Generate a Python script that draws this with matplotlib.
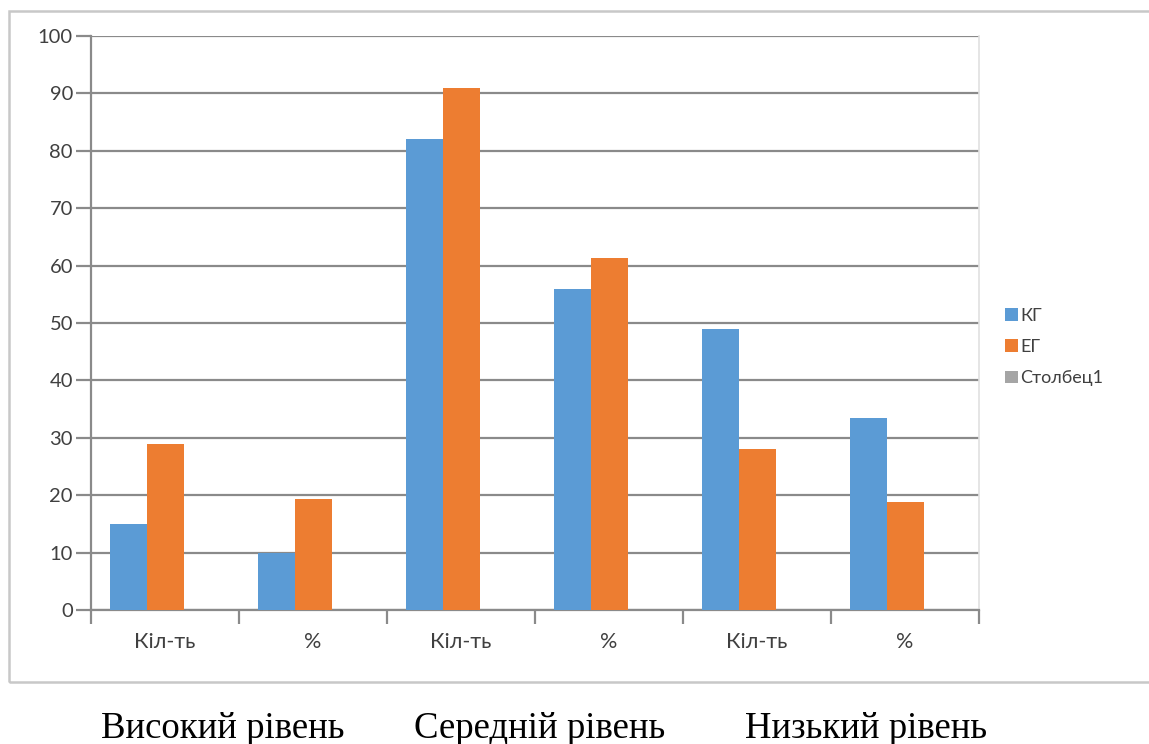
import numpy as np
import matplotlib.pyplot as plt
from matplotlib.patches import Rectangle

plt.rcParams['font.family'] = ['Lato', 'DejaVu Sans']

categories = ["Кіл-ть", "%", "Кіл-ть", "%", "Кіл-ть", "%"]
kg = [15, 10, 82, 56, 49, 33.5]
eg = [29, 19.4, 91, 61.3, 28, 18.9]
stolbec1 = [np.nan] * 6  # empty series, kept for its slot and legend entry
levels = ["Високий рівень", "Середній рівень", "Низький рівень"]

fig = plt.figure(figsize=(11.49, 7.44), dpi=100)
ax = fig.add_axes([91 / 1149, 1 - 610 / 744, (979 - 91) / 1149, (610 - 36) / 744])

x = np.arange(len(categories))
w = 0.25
ax.bar(x - w, kg, w, color="#5B9BD5", label="КГ", zorder=3)
ax.bar(x, eg, w, color="#ED7D31", label="ЕГ", zorder=3)
ax.bar(x + w, stolbec1, w, color="#A5A5A5", label="Столбец1", zorder=3)

grid_c = "#8a8a8a"
ax.set_xlim(-0.5, len(categories) - 0.5)
ax.set_ylim(0, 100)
ax.set_yticks(range(0, 101, 10))
ax.yaxis.grid(True, color=grid_c, linewidth=1.6, zorder=0)
ax.set_axisbelow(True)

# category labels between boundary ticks
ax.set_xticks(np.arange(len(categories) + 1) - 0.5)
ax.set_xticklabels([])
ax.set_xticks(x, minor=True)
ax.set_xticklabels(categories, minor=True)
ax.tick_params(axis="x", which="major", length=10, width=1.6, color=grid_c)
ax.tick_params(axis="x", which="minor", length=0, pad=16)
ax.tick_params(axis="y", length=11, width=1.6, color=grid_c, pad=2)
ax.tick_params(axis="y", labelsize=14.5, labelcolor="#404040")
ax.tick_params(axis="x", which="both", labelsize=15.5, labelcolor="#404040")

for s in ["left", "bottom"]:
    ax.spines[s].set_color(grid_c)
    ax.spines[s].set_linewidth(1.6)
ax.spines["top"].set_visible(False)
ax.spines["right"].set_color("#e0e0e0")
ax.spines["right"].set_linewidth(1.2)

ax.legend(loc="center left", bbox_to_anchor=(1005 / 1149, 1 - 347 / 744),
          bbox_transform=fig.transFigure, frameon=False, fontsize=13,
          handlelength=0.7, handleheight=0.7, handletextpad=0.15,
          labelspacing=0.85, borderpad=0, borderaxespad=0,
          labelcolor="#404040")

# chart frame
fig.patches.append(Rectangle((9 / 1149, 1 - 682 / 744), 1.1, (682 - 11) / 744,
                             transform=fig.transFigure, fill=False,
                             edgecolor="#c8c8c8", linewidth=1.8))

for cx, txt in zip([223, 540, 866], levels):
    fig.text(cx / 1149, 1 - 738 / 744, txt, ha="center", va="baseline",
             fontsize=26.5, family="Liberation Serif", color="black")

fig.savefig("out.png", dpi=100)
